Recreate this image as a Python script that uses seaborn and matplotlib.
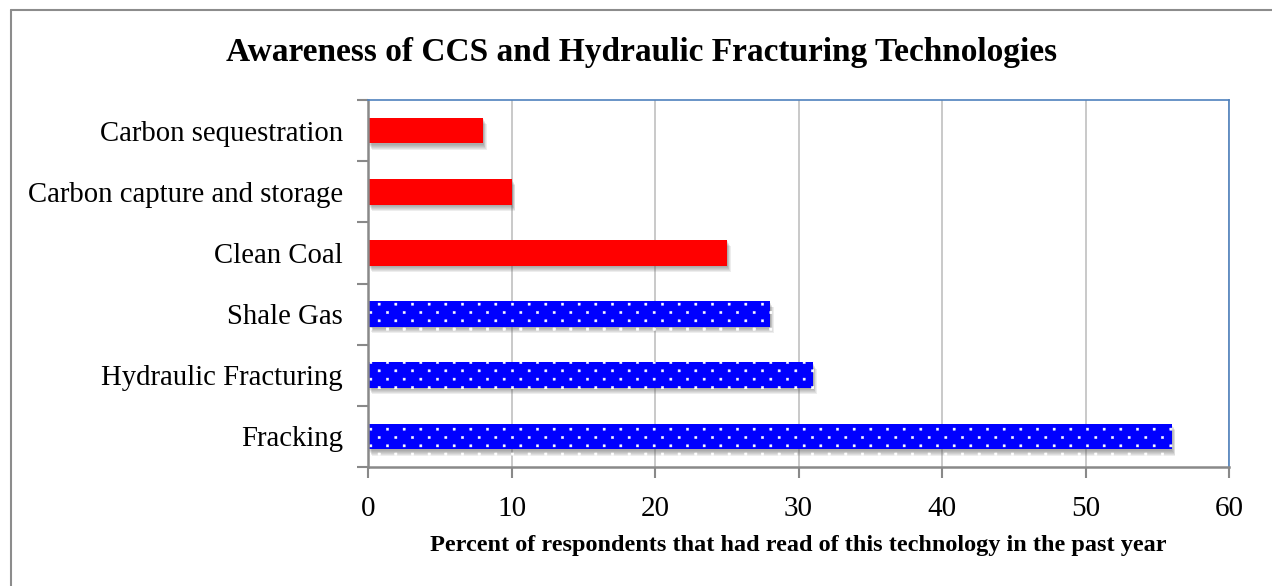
import matplotlib
matplotlib.use("Agg")
import numpy as np
import matplotlib.pyplot as plt
import matplotlib.patheffects as pe
import matplotlib.hatch as mhatch
from matplotlib.path import Path
from matplotlib.lines import Line2D
import seaborn as sns
import pandas as pd

categories = ["Carbon sequestration", "Carbon capture and storage", "Clean Coal",
              "Shale Gas", "Hydraulic Fracturing", "Fracking"]
values = [8, 10, 25, 28, 31, 56]
groups = ["CCS", "CCS", "CCS", "Fracking", "Fracking", "Fracking"]
title = "Awareness of CCS and Hydraulic Fracturing Technologies"
xlabel = "Percent of respondents that had read of this technology in the past year"
xticks = [0, 10, 20, 30, 40, 50, 60]


# Small square dot hatch: staggered rows, denser vertically than horizontally
class SquareDots(mhatch.HatchPatternBase):
    size = 0.022

    def __init__(self, hatch, density):
        self.ncols = hatch.count(".") * density
        self.nrows = 2 * self.ncols
        self.sq = (Path.unit_rectangle().vertices - 0.5) * self.size
        self.sqc = Path.unit_rectangle().codes
        self.num_vertices = self.nrows * self.ncols * len(self.sq) if self.ncols else 0

    def set_vertices_and_codes(self, vertices, codes):
        vp, cp = [], []
        dx = 1.0 / self.ncols
        dy = 1.0 / self.nrows
        for r in range(self.nrows):
            shift = dx / 2 if r % 2 else 0.0
            for c in range(self.ncols):
                vp.append(self.sq + [c * dx + shift + dx / 4, r * dy + dy / 2])
                cp.append(self.sqc)
        np.concatenate(vp, out=vertices)
        np.concatenate(cp, out=codes)


mhatch._hatch_types = [t for t in mhatch._hatch_types
                       if t is not mhatch.SmallFilledCircles] + [SquareDots]

df = pd.DataFrame({"cat": categories, "val": values, "grp": groups})

sns.set_theme(style="white")
plt.rcParams["font.family"] = ["Liberation Serif", "DejaVu Serif"]
plt.rcParams["text.color"] = "black"
plt.rcParams["xtick.color"] = "black"
plt.rcParams["ytick.color"] = "black"
plt.rcParams["axes.labelcolor"] = "black"
plt.rcParams["hatch.color"] = "white"
plt.rcParams["hatch.linewidth"] = 0.3

fig = plt.figure(figsize=(12.72, 5.86), dpi=100)
ax = fig.add_axes([368/1272, 1-467/586, (1229-368)/1272, (467-100)/586])

sns.barplot(data=df, x="val", y="cat", hue="grp", order=categories,
            palette={"CCS": "#FF0000", "Fracking": "#0000FF"},
            dodge=False, legend=False, width=0.42, ax=ax, orient="h",
            saturation=1)

shadow = [pe.SimplePatchShadow(offset=(o * 0.6, -o), shadow_rgbFace="#555555", alpha=0.10)
          for o in (4.5, 3.8, 3.1, 2.4, 1.7, 1.0)] + [pe.Normal()]
for p in ax.patches:
    fc = p.get_facecolor()
    p.set_path_effects(shadow)
    if fc[2] > 0.9 and fc[0] < 0.1:
        p.set_hatch(".")
        p.set_edgecolor("white")
        p.set_linewidth(0)
    else:
        p.set_edgecolor("none")

ax.set_xlim(0, 60)
ax.set_ylim(5.5, -0.5)
ax.set_xticks(xticks)
ax.set_xticklabels([str(t) for t in xticks], fontsize=21)
ax.set_yticks(range(len(categories)))
ax.set_yticklabels(categories, fontsize=20.7)
ax.set_yticks([i - 0.5 for i in range(len(categories) + 1)], minor=True)
ax.tick_params(axis="y", which="major", length=0, pad=18)
ax.tick_params(axis="y", which="minor", length=8, width=1.5, color="#898989", direction="out", left=True)
ax.tick_params(axis="x", which="major", length=8, width=1.5, color="#898989", direction="out", bottom=True, pad=13)
ax.set_ylabel("")
ax.set_xlabel(xlabel, fontsize=17.5, fontweight="bold", labelpad=9)

ax.grid(axis="x", color="#C0C0C0", linewidth=1.2)
ax.set_axisbelow(True)
for s in ["left", "bottom"]:
    ax.spines[s].set_color("#898989")
    ax.spines[s].set_linewidth(1.8)
for s in ["top", "right"]:
    ax.spines[s].set_color("#4F81BD")
    ax.spines[s].set_linewidth(1.2)

fig.text(642/1272, 1-52/586, title, fontsize=24, fontweight="bold", ha="center", va="center")

fig.add_artist(Line2D([11/1272, 11/1272], [0, 1-10/586], color="#8C8C8C", linewidth=1.5))
fig.add_artist(Line2D([11/1272, 1], [1-10/586, 1-10/586], color="#8C8C8C", linewidth=1.5))

fig.savefig("out.png", dpi=100, facecolor="white")
